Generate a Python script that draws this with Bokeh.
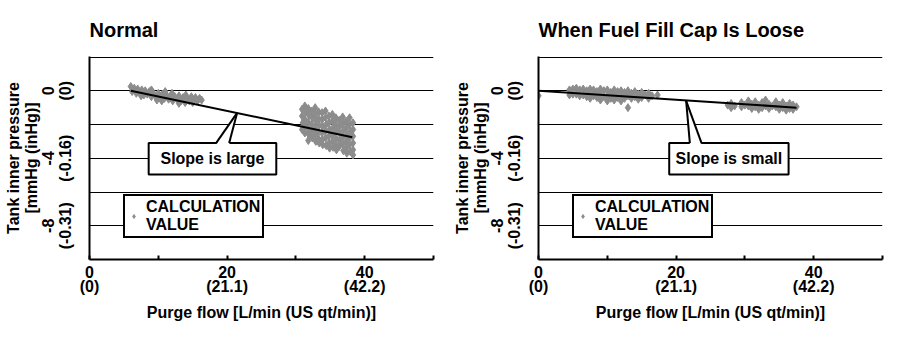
import math
from bokeh.plotting import figure
from bokeh.layouts import row
from bokeh.models import FixedTicker, Legend, LegendItem, Range1d, LinearAxis
from bokeh.core.properties import value
from bokeh.embed import file_html
from bokeh.resources import INLINE

# ---------------- data ----------------
# Normal: low-flow cluster (purge flow L/min, tank pressure mmHg)
normal_low = [
    (6.0, 0.25), (6.2, -0.05), (6.5, 0.15), (6.8, -0.15), (7.0, 0.1), (7.3, -0.1),
    (7.6, 0.05), (7.9, -0.25), (8.1, 0.0), (8.4, -0.2), (8.7, -0.05), (9.0, -0.35),
    (9.2, -0.1), (9.5, -0.3), (9.8, -0.55), (10.0, -0.15), (10.3, -0.35), (10.6, -0.2),
    (10.9, -0.45), (11.2, -0.25), (11.5, -0.5), (11.8, -0.3), (12.1, -0.6), (12.4, -0.35),
    (12.7, -0.5), (13.0, -0.3), (13.3, -0.6), (13.6, -0.4), (13.9, -0.7), (14.2, -0.45),
    (14.5, -0.6), (14.8, -0.35), (15.1, -0.55), (15.4, -0.4), (15.7, -0.6), (16.0, -0.45),
    (16.3, -0.55), (7.5, -0.3), (10.5, -0.6), (12.0, -0.15), (14.0, -0.25), (11.0, -0.05),
    (9.0, 0.05), (13.0, -0.75), (15.0, -0.7),
]
# Normal: high-flow cluster
normal_high = [
    (30.9, -1.1), (30.9, -1.5), (31.0, -1.9), (30.9, -2.3),
    (31.3, -0.9), (31.4, -1.3), (31.3, -1.7), (31.4, -2.1), (31.3, -2.5),
    (31.8, -1.05), (31.9, -1.45), (31.8, -1.85), (31.8, -2.25), (31.9, -2.6), (31.8, -2.95),
    (32.3, -1.2), (32.4, -1.6), (32.3, -2.0), (32.3, -2.4), (32.4, -2.8),
    (32.8, -1.0), (32.8, -1.4), (32.9, -1.8), (32.8, -2.2), (32.8, -2.6), (32.9, -3.0),
    (33.3, -1.25), (33.3, -1.65), (33.4, -2.05), (33.3, -2.45), (33.3, -2.85), (33.4, -3.1),
    (33.8, -1.3), (33.8, -1.7), (33.9, -2.1), (33.8, -2.5), (33.8, -2.9), (33.9, -3.2),
    (34.3, -1.2), (34.3, -1.6), (34.4, -2.0), (34.3, -2.4), (34.3, -2.8), (34.4, -3.25),
    (34.8, -1.5), (34.8, -1.9), (34.9, -2.3), (34.8, -2.7), (34.8, -3.1), (34.9, -3.4),
    (35.3, -1.4), (35.3, -1.8), (35.4, -2.2), (35.3, -2.6), (35.3, -3.0), (35.4, -3.35),
    (35.8, -1.6), (35.8, -2.0), (35.9, -2.4), (35.8, -2.8), (35.8, -3.2), (35.9, -3.5),
    (36.3, -1.75), (36.3, -2.15), (36.4, -2.55), (36.3, -2.95), (36.3, -3.3),
    (36.8, -1.55), (36.8, -1.95), (36.9, -2.35), (36.8, -2.75), (36.8, -3.15), (36.9, -3.55),
    (37.3, -1.8), (37.3, -2.2), (37.4, -2.6), (37.3, -3.0), (37.3, -3.4), (37.4, -3.7),
    (37.8, -1.6), (37.8, -2.0), (37.9, -2.4), (37.8, -2.8), (37.8, -3.2), (37.9, -3.6),
    (38.3, -1.9), (38.3, -2.3), (38.3, -2.7), (38.3, -3.1), (38.3, -3.5), (38.3, -3.8),
]
# Loose cap: low-flow cluster
loose_low = [
    (0.0, -0.3),
    (4.5, 0.05), (4.5, -0.25), (5.0, 0.1), (5.0, -0.2), (5.5, 0.15), (5.5, -0.2),
    (6.0, 0.05), (6.0, -0.3), (6.5, 0.1), (6.5, -0.25), (7.0, 0.0), (7.0, -0.35),
    (7.5, 0.1), (7.5, -0.2), (7.5, -0.45), (8.0, 0.05), (8.0, -0.3), (8.5, -0.05),
    (8.5, -0.4), (9.0, 0.1), (9.0, -0.25), (9.0, -0.55), (9.5, 0.0), (9.5, -0.35),
    (10.0, 0.05), (10.0, -0.3), (10.0, -0.6), (10.5, -0.1), (10.5, -0.45), (11.0, 0.05),
    (11.0, -0.25), (11.0, -0.55), (11.5, -0.05), (11.5, -0.4), (12.0, 0.0), (12.0, -0.3),
    (12.0, -0.6), (12.5, -0.1), (12.5, -0.45), (13.0, 0.0), (13.0, -0.3), (13.0, -1.0),
    (13.5, -0.15), (13.5, -0.45), (14.0, -0.05), (14.0, -0.35), (14.5, -0.2), (14.5, -0.5),
    (15.0, -0.1), (15.0, -0.4), (15.5, -0.25), (16.0, -0.15), (16.0, -0.45), (16.5, -0.3),
    (17.3, -0.25),
]
# Loose cap: high-flow cluster
loose_high = [
    (27.5, -0.85), (28.0, -0.75), (28.0, -1.0), (28.5, -0.9), (29.5, -0.7), (29.5, -0.95),
    (30.0, -0.85), (30.5, -0.6), (30.5, -0.9), (31.0, -0.8), (31.0, -1.05), (31.5, -0.65),
    (31.5, -0.95), (32.0, -0.85), (32.0, -1.1), (32.5, -0.7), (32.5, -1.0), (33.0, -0.55),
    (33.0, -0.9), (33.5, -0.8), (33.5, -1.05), (34.0, -0.9), (34.5, -0.65), (34.5, -0.95),
    (35.0, -0.85), (35.0, -1.1), (35.5, -0.7), (35.5, -1.0), (36.0, -0.9), (36.0, -1.15),
    (36.5, -0.75), (36.5, -1.05), (37.0, -0.85), (37.0, -1.1), (37.5, -0.95),
]
# Fitted lines (start / end)
normal_fit_x = [6.0, 38.2]
normal_fit_y = [0.0, -2.75]
loose_fit_x = [0.0, 37.5]
loose_fit_y = [0.0, -1.0]

# Axis ticks / labels
x_ticks = [0, 20, 40]
x_minor = [10, 30, 50]
x_labels = ["0\n(0)", "20\n(21.1)", "40\n(42.2)"]
y_ticks = [0, -4, -8]
y_minor = [2, -2, -6]
y_labels_mmhg = ["0", "-4", "-8"]
y_labels_inhg = ["(0)", "(-0.16)", "(-0.31)"]

titles = ["Normal", "When Fuel Fill Cap Is Loose"]
callouts = ["Slope is large", "Slope is small"]
legend_label = "CALCULATION\nVALUE"

FONT = "Liberation Sans"
GRAY = "#8c8c8c"


def style_label_font(ax):
    ax.major_label_text_font = FONT
    ax.major_label_text_font_style = "bold"
    ax.major_label_text_font_size = "16px"
    ax.major_label_text_color = "black"
    ax.axis_label_text_font = FONT
    ax.axis_label_text_font_style = "bold"
    ax.axis_label_text_font_size = "16px"
    ax.axis_label_text_color = "black"


def make_panel(title, pts_a, pts_b, fit_x, fit_y, callout_text, box, ptr,
               width, border_left, border_right):
    p = figure(width=width, height=355, output_backend="svg", toolbar_location=None,
               tools="", x_range=Range1d(0, 50), y_range=Range1d(-10, 2.03),
               min_border_left=border_left, min_border_right=border_right,
               min_border_top=56, min_border_bottom=96)
    p.outline_line_color = None
    p.background_fill_color = "white"
    p.border_fill_color = "white"

    p.title.text = title
    p.title.text_font = FONT
    p.title.text_font_size = "20px"
    p.title.text_font_style = "bold"
    p.title.text_color = "black"
    p.title.align = "left"
    p.title.standoff = 32

    # inner y axis: inHg labels
    ya = p.yaxis[0]
    ya.ticker = FixedTicker(ticks=y_ticks, minor_ticks=y_minor)
    ya.major_label_overrides = dict(zip(y_ticks, y_labels_inhg))
    ya.major_label_orientation = "parallel"
    ya.axis_line_width = 2
    ya.axis_line_color = "black"
    ya.major_tick_in = 0
    ya.major_tick_out = 0
    ya.minor_tick_in = 0
    ya.minor_tick_out = 0
    ya.major_label_standoff = 15
    style_label_font(ya)

    # outer y axis: mmHg labels + title
    yb = LinearAxis(ticker=FixedTicker(ticks=y_ticks, minor_ticks=y_minor))
    yb.major_label_overrides = dict(zip(y_ticks, y_labels_mmhg))
    yb.major_label_orientation = "parallel"
    yb.axis_line_color = None
    yb.major_tick_line_color = None
    yb.minor_tick_line_color = None
    yb.major_tick_in = 0
    yb.major_tick_out = 0
    yb.minor_tick_in = 0
    yb.minor_tick_out = 0
    yb.major_label_standoff = 0
    yb.axis_label = "Tank inner pressure\n[mmHg (inHg)]"
    yb.axis_label_text_line_height = 1.05
    yb.axis_label_standoff = 0
    style_label_font(yb)
    p.add_layout(yb, "left")

    # x axis
    xa = p.xaxis[0]
    xa.ticker = FixedTicker(ticks=x_ticks, minor_ticks=x_minor)
    xa.major_label_overrides = dict(zip(x_ticks, x_labels))
    xa.axis_line_width = 2
    xa.axis_line_color = "black"
    xa.major_tick_in = 4
    xa.major_tick_out = 0
    xa.minor_tick_in = 4
    xa.minor_tick_out = 0
    xa.major_tick_line_width = 2
    xa.minor_tick_line_width = 2
    xa.major_tick_line_color = "black"
    xa.minor_tick_line_color = "black"
    xa.major_label_standoff = 4
    xa.major_label_text_line_height = 0.85
    xa.axis_label = "Purge flow [L/min (US qt/min)]"
    xa.axis_label_standoff = 6
    style_label_font(xa)

    p.xgrid.grid_line_color = None
    p.ygrid.grid_line_color = "black"
    p.ygrid.grid_line_width = 1
    p.ygrid.minor_grid_line_color = "black"
    p.ygrid.minor_grid_line_width = 1

    pts = pts_a + pts_b
    xs = [a for a, b in pts]
    ys = [b for a, b in pts]
    sc = p.scatter(xs, ys, marker="diamond", size=8, color=GRAY, line_color=GRAY)

    p.line(fit_x, fit_y, line_width=2, color="black")

    # callout box
    bl, br, bt, bb = box
    p.quad(left=[bl], right=[br], top=[bt], bottom=[bb], fill_color="white",
           line_color="black", line_width=2)
    f1, f2, ax_, ay_ = ptr
    p.patch([f1, ax_, f2], [bt - 0.08, ay_, bt - 0.08], fill_color="white", line_color=None)
    p.multi_line([[f1, ax_], [f2, ax_]], [[bt, ay_], [bt, ay_]], line_color="black", line_width=2)
    p.text(x=[(bl + br) / 2], y=[(bt + bb) / 2], text=[callout_text], text_align="center",
           text_baseline="middle", text_font=value(FONT), text_font_style="bold",
           text_font_size="16px", text_color="black")

    legend = Legend(items=[LegendItem(label=legend_label, renderers=[sc])], location=(34, 21))
    legend.border_line_color = "black"
    legend.border_line_alpha = 1
    legend.border_line_width = 2
    legend.background_fill_color = "white"
    legend.background_fill_alpha = 1
    legend.label_text_font = FONT
    legend.label_text_font_style = "bold"
    legend.label_text_font_size = "16px"
    legend.label_text_color = "black"
    legend.label_text_line_height = 1.0
    legend.glyph_width = 13
    legend.glyph_height = 10
    legend.label_standoff = 6
    legend.padding = 2
    legend.margin = 0
    legend.spacing = 0
    p.add_layout(legend)
    return p


p1 = make_panel(titles[0], normal_low, normal_high, normal_fit_x, normal_fit_y, callouts[0],
                (8.6, 27.15, -3.1, -4.96), (18.4, 20.3, 21.46, -1.31),
                width=450, border_left=89, border_right=17)
p2 = make_panel(titles[1], loose_low, loose_high, loose_fit_x, loose_fit_y, callouts[1],
                (19.0, 36.35, -3.1, -4.96), (22.0, 23.7, 21.46, -0.6),
                width=455, border_left=88, border_right=23)

layout = row(p1, p2)
open("out.html", "w").write(file_html(layout, INLINE))
